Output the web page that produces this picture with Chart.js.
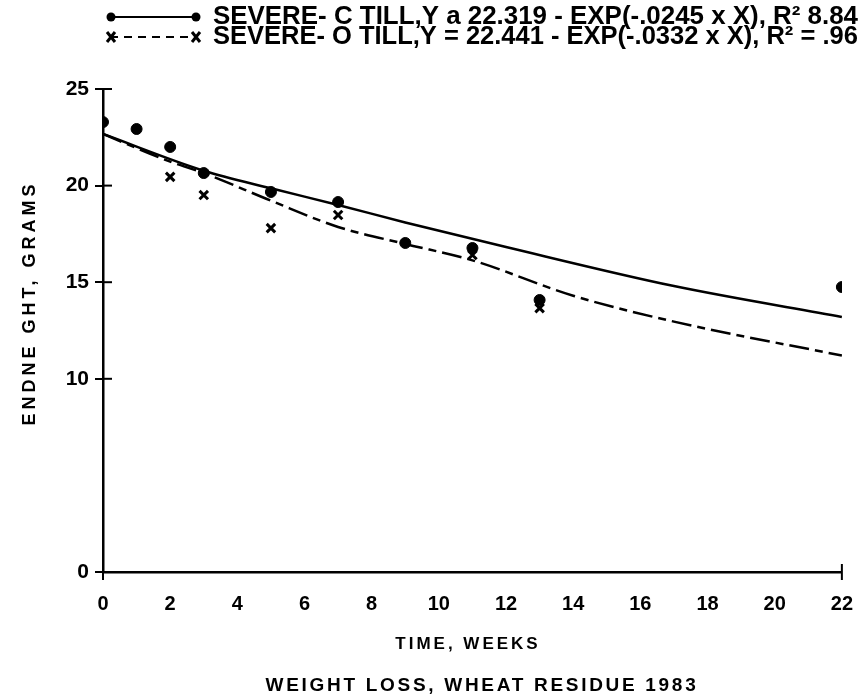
<!DOCTYPE html>
<html>
<head>
<meta charset="utf-8">
<script src="https://cdn.jsdelivr.net/npm/chart.js@4.4.1/dist/chart.umd.min.js"></script>
<style>
  html, body { margin: 0; padding: 0; background: #fff; }
  #wrap { width: 865px; height: 698px; position: relative; }
</style>
</head>
<body>
<div id="wrap"><canvas id="graph" width="865" height="698"></canvas></div>
<script>
// Donnees
var semainesC = [0, 1, 2, 3, 5, 7, 9, 11, 13, 22];
var poidsC = [23.29, 22.93, 22.0, 20.65, 19.67, 19.15, 17.03, 16.77, 14.08, 14.75];
var semainesO = [2, 3, 5, 7, 11, 13];
var poidsO = [20.45, 19.51, 17.8, 18.48, 16.41, 13.66];
// courbes ajustees
var semainesFitC = [0, 3, 5, 7, 9, 12, 17, 22];
var fitC = [22.67, 20.77, 19.86, 19.0, 18.09, 16.82, 14.8, 13.2];
var semainesFitO = [0, 2, 3, 5, 7, 9, 11, 14, 17, 22];
var fitO = [22.67, 21.24, 20.65, 19.22, 17.86, 16.98, 16.13, 14.3, 12.96, 11.2];

var ticksX = [0, 2, 4, 6, 8, 10, 12, 14, 16, 18, 20, 22];
var ticksY = [0, 10, 15, 20, 25];

var legendes = [
    "SEVERE- C TILL,Y a 22.319 - EXP(-.0245 x X), R\u00B2 8.84",
    "SEVERE- O TILL,Y = 22.441 - EXP(-.0332 x X), R\u00B2 = .96"
];
var titreY = "ENDNE GHT, GRAMS";
var titreX = "TIME, WEEKS";
var titreBas = "WEIGHT LOSS, WHEAT RESIDUE 1983";

var police = '"Liberation Sans", Arial, sans-serif';

function points(xs, ys) {
    var liste = [];
    for (var i = 0; i < xs.length; i++) {
        liste.push({x: xs[i], y: ys[i]});
    }
    return liste;
}

// dessine les textes, la legende et les petits traits d'axe
var decor = {
    id: 'decor',
    afterDraw: function(chart) {
        var ctx = chart.ctx;
        var sx = chart.scales.x;
        var sy = chart.scales.y;
        ctx.save();
        ctx.fillStyle = '#000';
        ctx.strokeStyle = '#000';

        // traits interieurs de l'axe Y
        ctx.lineWidth = 2;
        for (var t in ticksY) {
            var py = sy.getPixelForValue(ticksY[t]);
            ctx.beginPath();
            ctx.moveTo(sx.left, py);
            ctx.lineTo(sx.left + 9, py);
            ctx.stroke();
        }
        // barres aux extremites de l'axe X
        var fins = [0, 22];
        for (var f in fins) {
            var px = sx.getPixelForValue(fins[f]);
            ctx.beginPath();
            ctx.moveTo(px, sy.bottom - 8);
            ctx.lineTo(px, sy.bottom + 8);
            ctx.stroke();
        }
        // barre en haut de l'axe Y
        ctx.beginPath();
        ctx.moveTo(sx.left - 8, sy.top);
        ctx.lineTo(sx.left + 8, sy.top);
        ctx.stroke();

        // legende
        ctx.textBaseline = 'middle';
        ctx.textAlign = 'left';
        var lignesY = [17, 37];
        for (var i = 0; i < legendes.length; i++) {
            var yl = lignesY[i];
            ctx.font = 'bold 20px ' + police;
            var w = ctx.measureText(legendes[i]).width;
            var taille = 20 * 645 / w;
            ctx.font = 'bold ' + taille.toFixed(2) + 'px ' + police;
            ctx.fillText(legendes[i], 213, yl);

            ctx.lineWidth = 2;
            if (i == 1) ctx.setLineDash([8, 6]);
            ctx.beginPath();
            ctx.moveTo(110, yl);
            ctx.lineTo(197, yl);
            ctx.stroke();
            ctx.setLineDash([]);
            if (i == 0) {
                ctx.beginPath(); ctx.arc(111, yl, 4.5, 0, Math.PI * 2); ctx.fill();
                ctx.beginPath(); ctx.arc(196, yl, 4.5, 0, Math.PI * 2); ctx.fill();
            } else {
                var ex = [111, 196];
                ctx.lineWidth = 3;
                for (var e in ex) {
                    ctx.beginPath();
                    ctx.moveTo(ex[e] - 4, yl - 5); ctx.lineTo(ex[e] + 4, yl + 5);
                    ctx.moveTo(ex[e] + 4, yl - 5); ctx.lineTo(ex[e] - 4, yl + 5);
                    ctx.stroke();
                }
            }
        }

        // titres
        ctx.textAlign = 'center';
        ctx.font = 'bold 17px ' + police;
        ctx.letterSpacing = '3px';
        ctx.fillText(titreX, 468, 644);
        ctx.font = 'bold 19px ' + police;
        ctx.letterSpacing = '2.7px';
        ctx.fillText(titreBas, 482, 686);

        ctx.translate(30, 303);
        ctx.rotate(-Math.PI / 2);
        ctx.font = 'bold 18px ' + police;
        ctx.letterSpacing = '4px';
        ctx.fillText(titreY, 0, 0);
        ctx.restore();
    }
};

new Chart(document.getElementById('graph').getContext('2d'), {
    type: 'scatter',
    data: {
        datasets: [
            {
                label: 'C points',
                data: points(semainesC, poidsC),
                backgroundColor: '#000',
                borderColor: '#000',
                pointRadius: 5.5,
                pointStyle: 'circle',
                showLine: false
            },
            {
                label: 'O points',
                data: points(semainesO, poidsO),
                backgroundColor: '#000',
                borderColor: '#000',
                pointRadius: 6,
                pointBorderWidth: 3,
                pointStyle: 'crossRot',
                showLine: false
            },
            {
                label: 'C fit',
                data: points(semainesFitC, fitC),
                borderColor: '#000',
                borderWidth: 2.5,
                pointRadius: 0,
                showLine: true,
                cubicInterpolationMode: 'monotone'
            },
            {
                label: 'O fit',
                data: points(semainesFitO, fitO),
                borderColor: '#000',
                borderWidth: 2.5,
                borderDash: [20, 6, 8, 6],
                pointRadius: 0,
                showLine: true,
                cubicInterpolationMode: 'monotone'
            }
        ]
    },
    options: {
        responsive: false,
        animation: false,
        layout: { padding: { top: 89, right: 14, bottom: 0, left: 0 } },
        plugins: {
            legend: { display: false },
            tooltip: { enabled: false }
        },
        scales: {
            x: {
                type: 'linear',
                min: 0,
                max: 22,
                afterFit: function(s) { s.height = 126; },
                afterBuildTicks: function(s) { s.ticks = ticksX.map(function(v) { return {value: v}; }); },
                border: { color: '#000', width: 2.5 },
                grid: { display: false },
                ticks: {
                    color: '#000',
                    padding: 12,
                    maxRotation: 0,
                    autoSkip: false,
                    font: { family: police, size: 20, weight: 'bold' }
                }
            },
            y: {
                type: 'linear',
                min: 0,
                max: 25,
                afterFit: function(s) { s.width = 103; },
                afterBuildTicks: function(s) { s.ticks = ticksY.map(function(v) { return {value: v}; }); },
                border: { color: '#000', width: 2.5 },
                grid: { drawOnChartArea: false, drawTicks: true, tickLength: 8, color: '#000', lineWidth: 2 },
                ticks: {
                    color: '#000',
                    padding: 6,
                    autoSkip: false,
                    font: { family: police, size: 21, weight: 'bold' }
                }
            }
        }
    },
    plugins: [decor]
});
</script>
</body>
</html>
